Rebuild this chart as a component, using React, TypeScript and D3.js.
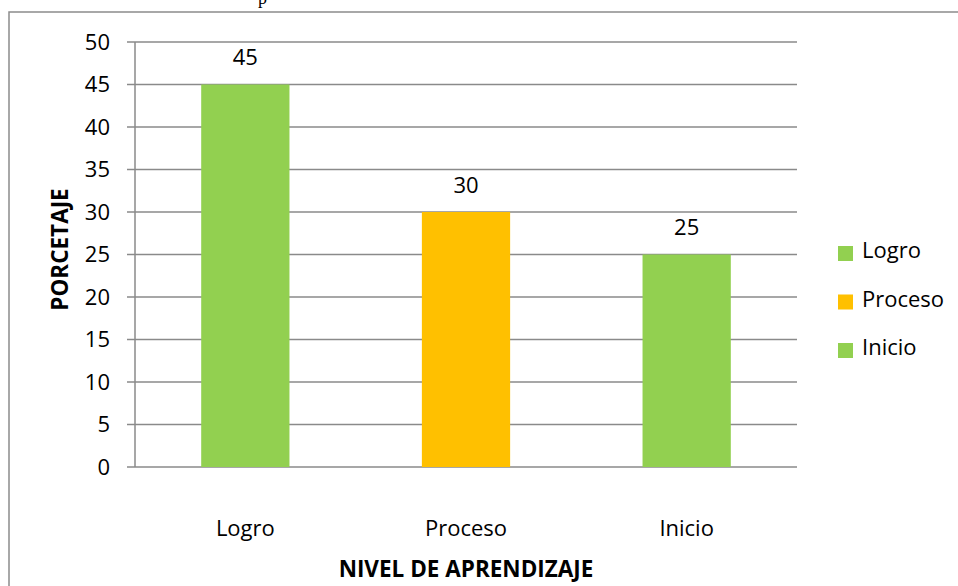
import React from "react";
import * as d3 from "d3";

const categories = ["Logro", "Proceso", "Inicio"];
const values = [45, 30, 25];
const barColors = ["#92D050", "#FFC000", "#92D050"];
const yTicks = [0, 5, 10, 15, 20, 25, 30, 35, 40, 45, 50];
const legendLabels = ["Logro", "Proceso", "Inicio"];

const FONT = "'Open Sans', 'Noto Sans', sans-serif";

export default function App() {
  const W = 958, H = 586;
  const left = 135, right = 797, top = 42, bottom = 467;
  const y = d3.scaleLinear().domain([0, 50]).range([bottom, top]);
  const x = d3.scaleBand<string>().domain(categories).range([left, right]).paddingInner(0.6).paddingOuter(0.3);
  const step = (right - left) / categories.length;
  const grid = "#8a8a8a";
  const fs = 22;
  return (
    <svg width={W} height={H} style={{ position: "absolute", left: 0, top: 0, background: "#fff" }}>
      <text x={258} y={4} fontFamily="'Liberation Serif', serif" fontSize={18} fill="#000">p</text>
      <rect x={9} y={12} width={1000} height={700} fill="none" stroke="#8c8c8c" strokeWidth={1.5} />
      {yTicks.map((t) => (
        <g key={t}>
          <line x1={left - 8} x2={right} y1={y(t)} y2={y(t)} stroke={grid} strokeWidth={1.5} />
          <text x={110} y={y(t)} dy="0.36em" textAnchor="end" fontFamily={FONT} fontSize={fs} fill="#000">{t}</text>
        </g>
      ))}
      <line x1={left} x2={left} y1={top} y2={bottom} stroke={grid} strokeWidth={1.5} />
      {categories.map((c, i) => (
        <g key={c}>
          <rect x={x(c)} y={y(values[i])} width={x.bandwidth()} height={bottom - y(values[i])} fill={barColors[i]} />
          <text x={x(c)! + x.bandwidth() / 2} y={y(values[i]) - 19.5} textAnchor="middle" fontFamily={FONT} fontSize={fs} fill="#000">{values[i]}</text>
          <text x={left + step * (i + 0.5)} y={536} textAnchor="middle" fontFamily={FONT} fontSize={fs} fill="#000">{c}</text>
        </g>
      ))}
      <text x={466} y={577} textAnchor="middle" fontFamily={FONT} fontWeight="bold" fontSize={22.5} fill="#000">NIVEL DE APRENDIZAJE</text>
      <text transform={`translate(68,${(top + bottom) / 2 - 5}) rotate(-90)`} textAnchor="middle" fontFamily={FONT} fontWeight="bold" fontSize={22.5} fill="#000">PORCETAJE</text>
      {legendLabels.map((l, i) => (
        <g key={l + i}>
          <rect x={838} y={246 + i * 48.5} width={15} height={15} fill={barColors[i]} />
          <text x={862} y={258 + i * 48.5} fontFamily={FONT} fontSize={fs} fill="#000">{l}</text>
        </g>
      ))}
    </svg>
  );
}
